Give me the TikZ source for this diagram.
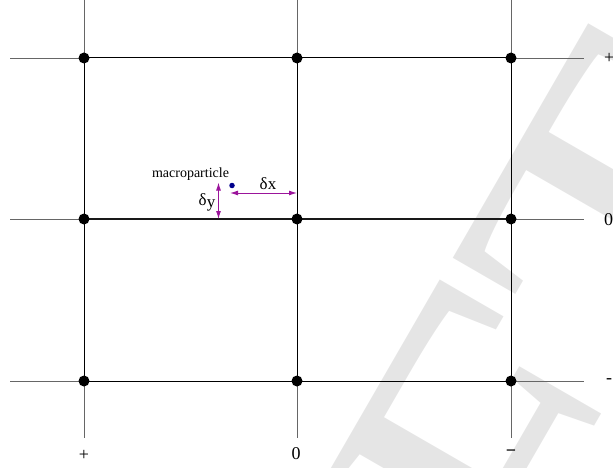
\documentclass[tikz,border=0pt]{standalone}
\usepackage{fontspec}
\setmainfont{Liberation Serif}
\usetikzlibrary{arrows.meta}
\definecolor{deltapurple}{RGB}{155,20,155}
\definecolor{particleblue}{RGB}{0,0,140}
\definecolor{draftgray}{RGB}{229,229,229}
\tikzset{
  extline/.style={line width=0.9pt, black!60},
  cellline/.style={line width=1pt, black},
  midline/.style={line width=1.8pt, black!90},
  gridpoint/.style={circle, fill=black, inner sep=0pt, minimum size=11pt},
  deltaarrow/.style={deltapurple, line width=1pt, {Latex[length=8pt,width=5pt]}-{Latex[length=8pt,width=5pt]}},
  sidelabel/.style={inner sep=0pt, font=\fontsize{18}{18}\selectfont},
  deltalabel/.style={inner sep=0pt, font=\fontsize{17}{17}\selectfont}
}
\begin{document}
\begin{tikzpicture}[x=1pt,y=-1pt]
\useasboundingbox (0,0) rectangle (613,468);
\begin{scope}
\clip (0,0) rectangle (613,468);
\node[draftgray, rotate=60, anchor=base east, inner sep=0pt, font=\fontsize{470}{470}\selectfont] (draft) at (859,170) {DRAFT};
\end{scope}
% grid lines and extensions
\foreach \x [count=\i] in {84,297,511} {
  \coordinate (top\i) at (\x,0);
  \coordinate (bot\i) at (\x,438);
}
\foreach \y [count=\j] in {58,219,381} {
  \coordinate (left\j) at (10,\y);
  \coordinate (right\j) at (584,\y);
}
\foreach \x [count=\i] in {84,297,511}
  \foreach \y [count=\j] in {58,219,381}
    \coordinate (p\i\j) at (\x,\y);
\foreach \i in {1,2,3} {
  \draw[extline] (top\i) -- (p\i1);
  \draw[extline] (p\i3) -- (bot\i);
  \draw[cellline] (p\i1) -- (p\i3);
  \draw[extline] (left\i) -- (p1\i);
  \draw[extline] (p3\i) -- (right\i);
}
\draw[cellline] (p11) -- (p31);
\draw[cellline] (p13) -- (p33);
\draw[midline] (p12) -- (p32);
\foreach \i in {1,2,3}
  \foreach \j in {1,2,3}
    \node[gridpoint] (n\i\j) at (p\i\j) {};
% labels
\node[sidelabel] (lab1) at (84,455) {+};
\node[sidelabel] (lab2) at (296,454) {0};
\node[sidelabel] (lab3) at (511,453) {\textbf{−}};
\node[sidelabel, anchor=west] (rlab1) at (604,58) {+};
\node[sidelabel, anchor=west] (rlab2) at (604,220) {0};
\node[sidelabel, anchor=west] (rlab3) at (606,381) {-};
% macroparticle and offsets
\node[circle, fill=particleblue, inner sep=0pt, minimum size=5.5pt] (particle) at (232,185.5) {};
\node[inner sep=0pt, font=\fontsize{14}{14}\selectfont] (plabel) at (190.5,174) {macroparticle};
\coordinate (dxstart) at (230,193);
\coordinate (dxend) at (297,193);
\coordinate (dytop) at (218.5,182.5);
\coordinate (dybot) at (218.5,219);
\draw[deltaarrow] (dxstart) -- (dxend);
\draw[deltaarrow] (dytop) -- (dybot);
\node[deltalabel] (dxlabel) at (268,183.5) {δx};
\node[deltalabel] (dylabel) at (207,202.5) {δ\raisebox{-2pt}{y}};
\end{tikzpicture}
\end{document}
